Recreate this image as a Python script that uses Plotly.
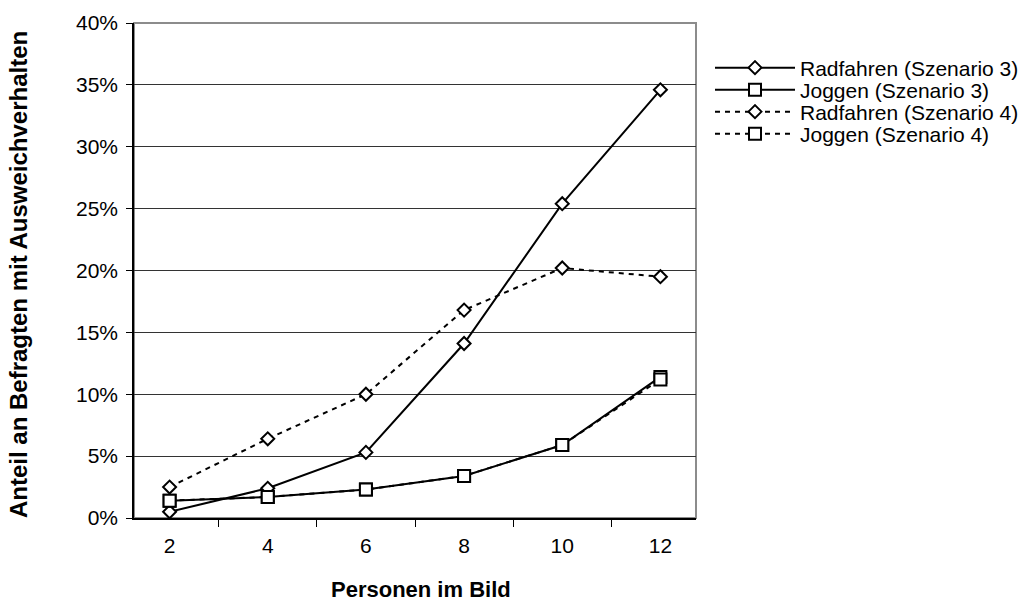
import plotly.graph_objects as go

# Anzahl Personen im Bild (Kategorien)
personen = ["2", "4", "6", "8", "10", "12"]

# Anteil an Befragten mit Ausweichverhalten in %
radfahren_s3 = [0.5, 2.4, 5.3, 14.1, 25.4, 34.6]
joggen_s3 = [1.4, 1.7, 2.3, 3.4, 5.9, 11.4]
radfahren_s4 = [2.5, 6.4, 10.0, 16.8, 20.2, 19.5]
joggen_s4 = [1.4, 1.7, 2.3, 3.4, 5.9, 11.2]

y_ticks = [0, 5, 10, 15, 20, 25, 30, 35, 40]
y_ticktext = [f"{v}%" for v in y_ticks]

FONT = "Arial, Liberation Sans, sans-serif"

# Figure and plot area in pixels (used to place the legend rows and titles)
WIDTH, HEIGHT = 1026, 604
PLOT_TOP, PLOT_BOTTOM = 23, 518
LEFT, PLOT_W = 134, 562


def paper_y(px):
    return (PLOT_BOTTOM - px) / (PLOT_BOTTOM - PLOT_TOP)


series = [
    ("Radfahren (Szenario 3)", radfahren_s3, "solid", "diamond", 10),
    ("Joggen (Szenario 3)", joggen_s3, "solid", "square", 12),
    ("Radfahren (Szenario 4)", radfahren_s4, "5px,5px", "diamond", 10),
    ("Joggen (Szenario 4)", joggen_s4, "5px,5px", "square", 12),
]
legend_ids = ["legend", "legend2", "legend3", "legend4"]
legend_rows = [68, 90, 112, 134]

fig = go.Figure()
for (name, values, dash, symbol, size), lid in zip(series, legend_ids):
    fig.add_trace(go.Scatter(
        x=personen,
        y=values,
        name=name,
        legend=lid,
        mode="lines+markers",
        line=dict(color="black", width=2, dash=dash),
        marker=dict(symbol=symbol, size=size, color="white",
                    line=dict(color="black", width=2)),
    ))

legend_layout = {}
for lid, row in zip(legend_ids, legend_rows):
    legend_layout[lid] = dict(
        xref="container", yref="paper",
        x=710 / WIDTH, y=paper_y(row), xanchor="left", yanchor="middle",
        font=dict(family=FONT, size=21, color="black"),
        itemwidth=80,
        bgcolor="rgba(0,0,0,0)",
    )

fig.update_layout(
    width=WIDTH,
    height=HEIGHT,
    margin=dict(l=134, r=330, t=23, b=86),
    paper_bgcolor="white",
    plot_bgcolor="white",
    font=dict(family=FONT, size=21, color="black"),
    showlegend=True,
    xaxis=dict(
        type="category",
        tickson="boundaries",
        ticks="outside",
        ticklen=7,
        tickcolor="black",
        tickwidth=1,
        showline=True,
        linecolor="black",
        linewidth=1.5,
        showgrid=False,
        tickfont=dict(family=FONT, size=21),
        ticklabelstandoff=8,
    ),
    yaxis=dict(
        range=[0, 40],
        tickmode="array",
        tickvals=y_ticks,
        ticktext=y_ticktext,
        ticks="outside",
        ticklen=6,
        tickcolor="black",
        showline=True,
        linecolor="black",
        linewidth=1.5,
        showgrid=True,
        gridcolor="#333333",
        gridwidth=1,
        zeroline=False,
        tickfont=dict(family=FONT, size=21),
        ticklabelstandoff=4,
    ),
    shapes=[
        dict(type="rect", xref="x domain", yref="y domain",
             x0=0, x1=1, y0=0, y1=1,
             line=dict(color="#8c8c8c", width=2), layer="below"),
    ],
    annotations=[
        dict(text="<b>Personen im Bild</b>", xref="paper", yref="paper",
             x=(421 - LEFT) / PLOT_W, y=paper_y(589),
             xanchor="center", yanchor="middle",
             showarrow=False, font=dict(family=FONT, size=22)),
        dict(text="<b>Anteil an Befragten mit Ausweichverhalten</b>",
             xref="paper", yref="paper",
             x=(18 - LEFT) / PLOT_W, y=paper_y(275),
             xanchor="center", yanchor="middle",
             textangle=-90, showarrow=False, font=dict(family=FONT, size=24)),
    ],
    **legend_layout,
)

fig.write_html("out.html")
